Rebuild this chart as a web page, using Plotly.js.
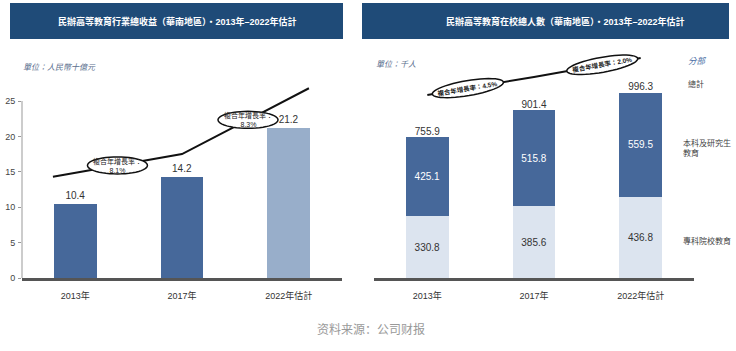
<!DOCTYPE html>
<html>
<head>
<meta charset="utf-8">
<script src="https://cdn.plot.ly/plotly-3.0.1.min.js"></script>
<style>html,body{margin:0;padding:0;background:#fff;}#chart{width:736px;height:351px;}</style>
</head>
<body>
<div id="chart"></div>
<script>
// ---------- data ----------
const categories = ["2013年", "2017年", "2022年估計"];
const revenue = [10.4, 14.2, 21.2];                 // 人民幣十億元
const juniorCollege = [330.8, 385.6, 436.8];        // 專科院校教育 (千人)
const undergradPostgrad = [425.1, 515.8, 559.5];    // 本科及研究生教育 (千人)
const enrolTotal = [755.9, 901.4, 996.3];           // 總計 (千人)
// decorative growth-trend lines
const trendLeftX = [-0.21, 1.0, 2.19];
const trendLeftY = [14.3, 17.5, 26.8];
const trendRightX = [0, 1, 2];
const trendRightY = [984, 1081, 1183];
const cagrLeft = ["8.1%", "8.3%"];
const cagrRight = ["4.5%", "2.0%"];
const yTicks = [0, 5, 10, 15, 20, 25];

// ---------- geometry ----------
const W = 736, H = 351;
const plotTop = 50, plotBot = 278;
const L = {x0: 22, x1: 342}, R = {x0: 374, x1: 694};
const leftScale = 7.08, rightScale = 0.186;      // px per unit
const leftMax = (plotBot - plotTop) / leftScale;
const rightMax = (plotBot - plotTop) / rightScale;
const yDom = [(H - plotBot) / H, (H - plotTop) / H];

function px(box, i) { return box.x0 + (i + 0.5) * (box.x1 - box.x0) / 3; }
function pyL(v) { return plotBot - v * leftScale; }
function pyR(v) { return plotBot - v * rightScale; }

const CJK = "Liberation Sans, Noto Sans CJK TC, sans-serif";
const dark = "#46689a", lightL = "#98aeca", lightR = "#dce4ef";

function ellipsePath(cx, cy, a, b, deg) {
  const th = deg * Math.PI / 180;
  let s = "";
  for (let k = 0; k <= 48; k++) {
    const t = 2 * Math.PI * k / 48;
    const x = cx + a * Math.cos(t) * Math.cos(th) - b * Math.sin(t) * Math.sin(th);
    const y = cy + a * Math.cos(t) * Math.sin(th) + b * Math.sin(t) * Math.cos(th);
    s += (k === 0 ? "M" : "L") + (x / W).toFixed(5) + "," + (1 - y / H).toFixed(5);
  }
  return s + "Z";
}
function onSeg(xs, ys, box, pyf, seg, t) {
  const xA = px(box, xs[seg]), xB = px(box, xs[seg + 1]);
  const yA = pyf(ys[seg]), yB = pyf(ys[seg + 1]);
  return {x: xA + (xB - xA) * t, y: yA + (yB - yA) * t,
          ang: Math.atan2(yB - yA, xB - xA) * 180 / Math.PI};
}
function note(text, x, y, font, extra) {
  return Object.assign({text: text, x: x / W, y: 1 - y / H, xref: "paper", yref: "paper",
    xanchor: "center", yanchor: "middle", showarrow: false, font: font}, extra || {});
}

const traces = [
  {type: "bar", x: [0, 1, 2], y: revenue, width: 0.4, xaxis: "x", yaxis: "y",
   marker: {color: [dark, dark, lightL]},
   text: revenue.map(v => v.toFixed(1)), textposition: "outside", cliponaxis: false,
   textfont: {family: CJK, size: 10, color: "#333"}, hoverinfo: "skip"},
  {type: "scatter", mode: "lines", x: trendLeftX, y: trendLeftY, xaxis: "x", yaxis: "y",
   line: {color: "#111", width: 2}, cliponaxis: false, hoverinfo: "skip"},
  {type: "bar", x: [0, 1, 2], y: juniorCollege, width: 0.4, xaxis: "x2", yaxis: "y2",
   marker: {color: lightR}, text: juniorCollege.map(v => v.toFixed(1)),
   textposition: "inside", insidetextanchor: "middle",
   textfont: {family: CJK, size: 10, color: "#333"}, hoverinfo: "skip"},
  {type: "bar", x: [0, 1, 2], y: undergradPostgrad, width: 0.4, xaxis: "x2", yaxis: "y2",
   marker: {color: dark}, text: undergradPostgrad.map(v => v.toFixed(1)),
   textposition: "inside", insidetextanchor: "middle",
   textfont: {family: CJK, size: 10, color: "#fff"}, hoverinfo: "skip"},
  {type: "scatter", mode: "text", x: [0, 1, 2], y: enrolTotal, xaxis: "x2", yaxis: "y2",
   text: enrolTotal.map(v => v.toFixed(1)), textposition: "top center", cliponaxis: false,
   textfont: {family: CJK, size: 10, color: "#333"}, hoverinfo: "skip"},
  {type: "scatter", mode: "lines", x: trendRightX, y: trendRightY, xaxis: "x2", yaxis: "y2",
   line: {color: "#111", width: 2}, cliponaxis: false, hoverinfo: "skip"}
];

const shapes = [
  {type: "rect", xref: "paper", yref: "paper", x0: 10 / W, x1: 343 / W, y0: 1 - 39 / H, y1: 1 - 3 / H,
   fillcolor: "#1f4b78", line: {width: 0}, layer: "below"},
  {type: "rect", xref: "paper", yref: "paper", x0: 362 / W, x1: 729 / W, y0: 1 - 39 / H, y1: 1 - 3 / H,
   fillcolor: "#1f4b78", line: {width: 0}, layer: "below"},
  {type: "line", xref: "paper", yref: "y", x0: L.x0 / W, x1: L.x0 / W, y0: 0, y1: 25,
   line: {color: "#999", width: 1}}
];

const small = (size, color, style) => ({family: CJK, size: size, color: color, style: style || "normal"});
const annotations = [
  note("<b>民辦高等教育行業總收益（華南地區）・2013年–2022年估計</b>", 177, 21, small(9, "#fff")),
  note("<b>民辦高等教育在校總人數（華南地區）・2013年–2022年估計</b>", 565, 21, small(9, "#fff")),
  note("單位：人民幣十億元", 21, 67, small(8, "#5b6f8e", "italic"), {xanchor: "left"}),
  note("單位：千人", 374, 65, small(8, "#5b6f8e", "italic"), {xanchor: "left"}),
  note("分部", 686, 61, small(8.5, "#4a6fa5", "italic"), {xanchor: "left"}),
  note("總計", 686, 84, small(8, "#444"), {xanchor: "left"}),
  note("本科及研究生<br>教育", 681, 148, small(8, "#444"), {xanchor: "left", align: "left"}),
  note("專科院校教育", 681, 241, small(8, "#444"), {xanchor: "left"}),
  note("资料来源：公司财报", 371, 328, {family: "Noto Sans CJK SC, sans-serif", size: 12, color: "#999"})
];

// CAGR ellipses
const ellL = [onSeg(trendLeftX, trendLeftY, L, pyL, 0, 0.5), onSeg(trendLeftX, trendLeftY, L, pyL, 1, 0.52)];
ellL.forEach((p, i) => {
  shapes.push({type: "path", xref: "paper", yref: "paper", path: ellipsePath(p.x, p.y, 30, 8.5, 0),
    fillcolor: "#fff", line: {color: "#111", width: 1.5}, layer: "above"});
  annotations.push(note("複合年增長率：<br>" + cagrLeft[i], p.x, p.y, small(7, "#222")));
});
const ellR = [onSeg(trendRightX, trendRightY, R, pyR, 0, 0.38), onSeg(trendRightX, trendRightY, R, pyR, 1, 0.64)];
ellR.forEach((p, i) => {
  shapes.push({type: "path", xref: "paper", yref: "paper", path: ellipsePath(p.x, p.y, 36, 7.5, p.ang),
    fillcolor: "#fff", line: {color: "#111", width: 1.5}, layer: "above"});
  annotations.push(note("<b>複合年增長率：" + cagrRight[i] + "</b>", p.x, p.y, small(6.5, "#222"),
    {textangle: p.ang}));
});

const xCommon = {range: [-0.5, 2.5], tickvals: [0, 1, 2], ticktext: categories, ticks: "",
  showline: true, linecolor: "#555", linewidth: 2.5, showgrid: false, zeroline: false,
  fixedrange: true, ticklabelstandoff: 8, tickfont: {family: CJK, size: 9, color: "#333"}};

const layout = {
  width: W, height: H, margin: {l: 0, r: 0, t: 0, b: 0},
  paper_bgcolor: "#fff", plot_bgcolor: "rgba(0,0,0,0)", showlegend: false, barmode: "stack",
  xaxis: Object.assign({}, xCommon, {domain: [L.x0 / W, L.x1 / W], anchor: "y"}),
  yaxis: {domain: yDom, range: [0, leftMax], tickvals: yTicks, ticks: "outside", ticklen: 3,
    tickcolor: "#999", showline: false, showgrid: false, zeroline: false, anchor: "x",
    tickfont: {family: CJK, size: 9, color: "#444"}, ticklabelstandoff: 1},
  xaxis2: Object.assign({}, xCommon, {domain: [R.x0 / W, R.x1 / W], anchor: "y2"}),
  yaxis2: {domain: yDom, range: [0, rightMax], visible: false, anchor: "x2"},
  shapes: shapes, annotations: annotations
};

Plotly.newPlot("chart", traces, layout, {displayModeBar: false, staticPlot: true});
</script>
</body>
</html>
